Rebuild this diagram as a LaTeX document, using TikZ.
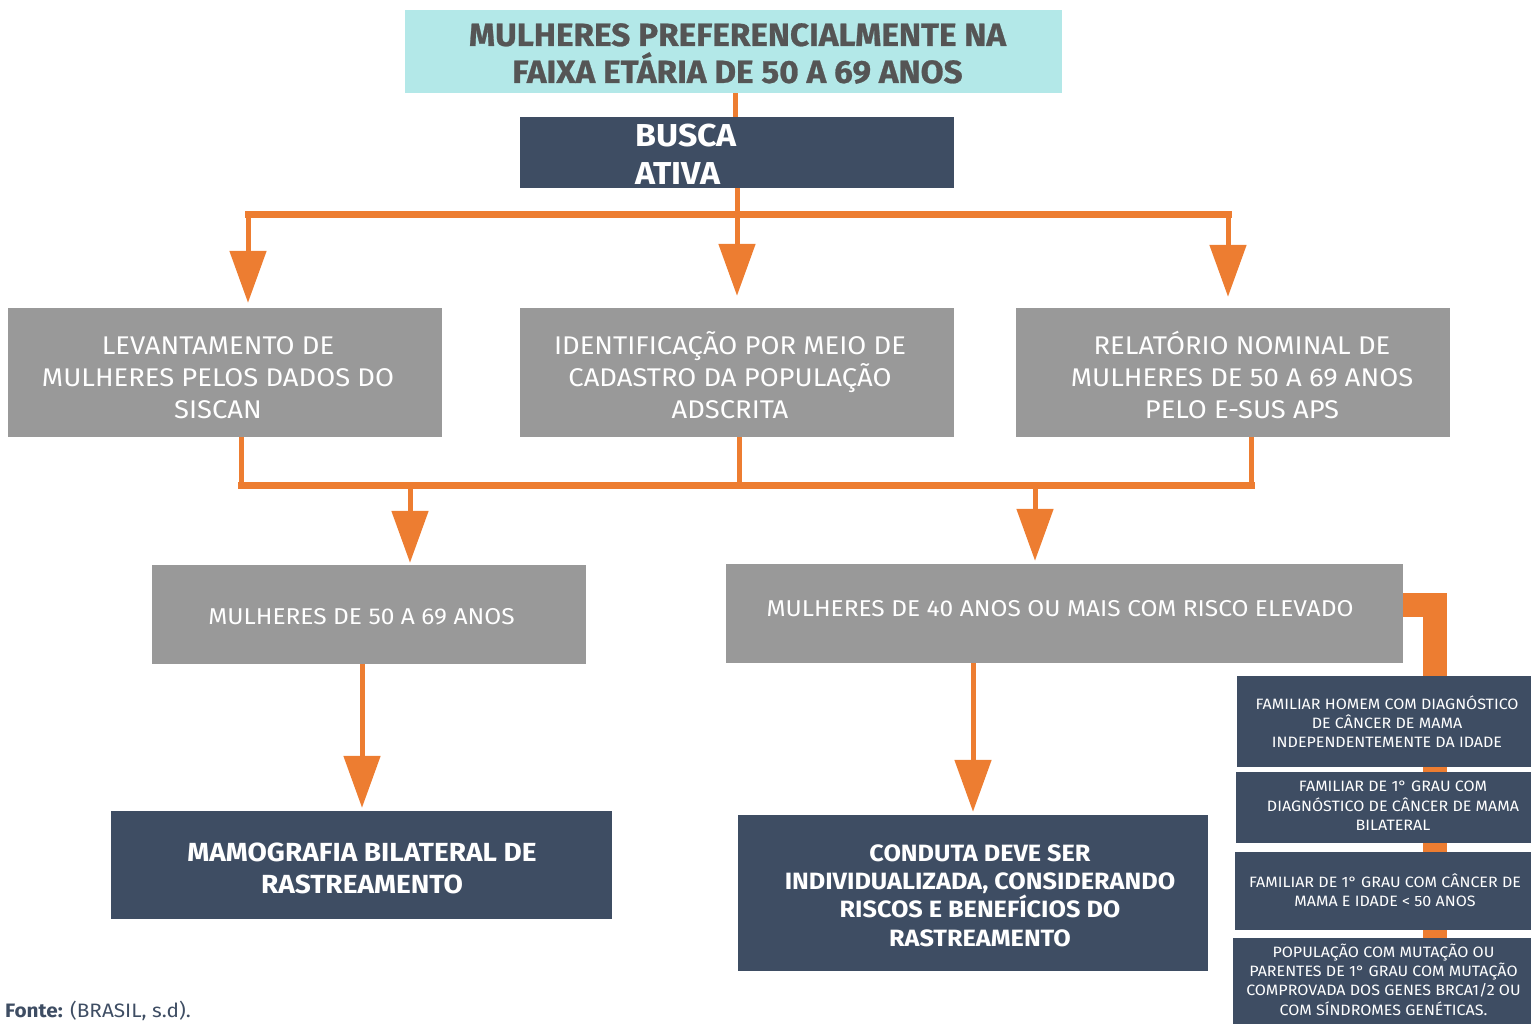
\documentclass[tikz,border=0pt]{standalone}
\usepackage{fontspec}
\setmainfont{Fira Sans}[FakeStretch=1.07]
\newfontfamily\titlefont{Fira Sans}[FakeStretch=1.04, BoldFeatures={FakeBold=0.8}]
\usetikzlibrary{arrows.meta}
\definecolor{orng}{HTML}{ED7D31}
\definecolor{navy}{HTML}{3E4D63}
\definecolor{grayb}{HTML}{999999}
\definecolor{cyanb}{HTML}{B3E8E8}
\definecolor{titlec}{HTML}{555555}
\begin{document}
\begin{tikzpicture}[x=1pt,y=-1pt,
 box/.style={inner sep=0pt},
 graybox/.style={box, fill=grayb},
 navybox/.style={box, fill=navy},
 lbl/.style={inner sep=0pt, align=center, text=white},
 glbl/.style={lbl, font=\fontsize{25.6}{32}\selectfont},
 slbl/.style={lbl, font=\fontsize{15}{19.3}\selectfont},
 conn/.style={draw=orng, line width=5pt},
 bar/.style={draw=orng, line width=7pt, line cap=rect},
 arr/.style={conn, -{Triangle[length=52pt,width=36pt]}},
]
\useasboundingbox (0,0) rectangle (1531,1023);

% top boxes
\node[box, fill=cyanb, minimum width=657pt, minimum height=83pt] (top) at (733.5,51.5) {};
\node[lbl, text=titlec, font=\titlefont\bfseries\fontsize{32}{37}\selectfont] (topt) at (737.5,53.5)
  {MULHERES PREFERENCIALMENTE NA\\FAIXA ETÁRIA DE 50 A 69 ANOS};
\node[navybox, minimum width=434pt, minimum height=71pt] (busca) at (737,152.5) {};
\node[anchor=west, align=left, text=white, inner sep=0pt, font=\bfseries\fontsize{31.7}{38}\selectfont] (buscat) at (635,154) {BUSCA\\ATIVA};

% second row
\node[graybox, minimum width=434pt, minimum height=129pt] (b1) at (225,372.5) {};
\node[glbl] (b1t) at (218,378) {LEVANTAMENTO DE\\MULHERES PELOS DADOS DO\\SISCAN};
\node[graybox, minimum width=434pt, minimum height=129pt] (b2) at (737,372.5) {};
\node[glbl] (b2t) at (730,375) {IDENTIFICAÇÃO POR MEIO DE\\CADASTRO DA POPULAÇÃO\\ADSCRITA};
\node[graybox, minimum width=434pt, minimum height=129pt] (b3) at (1233,372.5) {};
\node[glbl] (b3t) at (1242,374.5) {RELATÓRIO NOMINAL DE\\MULHERES DE 50 A 69 ANOS\\PELO E-SUS APS};

% third row
\node[graybox, minimum width=434pt, minimum height=99pt] (b50) at (369,614.5) {};
\node[lbl, font=\fontsize{22.9}{28}\selectfont] (b50t) at (361.5,617) {MULHERES DE 50 A 69 ANOS};
\node[graybox, minimum width=677pt, minimum height=99pt] (b40) at (1064.5,613.5) {};
\node[lbl, font=\fontsize{22.9}{28}\selectfont] (b40t) at (1060,609) {MULHERES DE 40 ANOS OU MAIS COM RISCO ELEVADO};

% fourth row
\node[navybox, minimum width=501pt, minimum height=108pt] (mamo) at (361.5,865) {};
\node[lbl, font=\bfseries\fontsize{26.2}{32}\selectfont] (mamot) at (362,868) {MAMOGRAFIA BILATERAL DE\\RASTREAMENTO};
\node[navybox, minimum width=470pt, minimum height=156pt] (cond) at (973,893) {};
\node[lbl, font=\bfseries\fontsize{23.6}{28.4}\selectfont] (condt) at (980,895.5)
  {CONDUTA DEVE SER\\INDIVIDUALIZADA, CONSIDERANDO\\RISCOS E BENEFÍCIOS DO\\RASTREAMENTO};

% right orange band (behind right boxes)
\coordinate (rb) at (1435,605);
\draw[orng, line width=24pt, line join=miter] (b40.east |- rb) -- (rb) -- (1435,945);

\node[navybox, minimum width=294pt, minimum height=91pt] (r1) at (1384,721.5) {};
\node[slbl] (r1t) at (1387,721.5) {FAMILIAR HOMEM COM DIAGNÓSTICO\\DE CÂNCER DE MAMA\\INDEPENDENTEMENTE DA IDADE};
\node[navybox, minimum width=295pt, minimum height=71pt] (r2) at (1383.5,807.5) {};
\node[slbl] (r2t) at (1393,806) {FAMILIAR DE 1° GRAU COM\\DIAGNÓSTICO DE CÂNCER DE MAMA\\BILATERAL};
\node[navybox, minimum width=296pt, minimum height=78pt] (r3) at (1383,891) {};
\node[slbl] (r3t) at (1385,890) {FAMILIAR DE 1° GRAU COM CÂNCER DE\\MAMA E IDADE < 50 ANOS};
\node[navybox, minimum width=298pt, minimum height=90pt] (r4) at (1382,983) {};
\node[slbl] (r4t) at (1383.5,979.5) {POPULAÇÃO COM MUTAÇÃO OU\\PARENTES DE 1° GRAU COM MUTAÇÃO\\COMPROVADA DOS GENES BRCA1/2 OU\\COM SÍNDROMES GENÉTICAS.};

% upper connectors
\draw[conn] (top.south -| 735,0) -- (busca.north -| 735,0);
\coordinate (uj) at (737,214);
\coordinate (ul) at (248,214);
\coordinate (ur) at (1228,214);
\draw[conn] (busca.south -| uj) -- (uj);
\draw[bar] (ul) -- (ur);
\draw[arr] (ul) -- ([yshift=5pt]b1.north -| ul);
\draw[arr] (uj) -- ([yshift=12pt]b2.north -| uj);
\draw[arr] (ur) -- ([yshift=11pt]b3.north -| ur);

% lower connectors
\coordinate (ll) at (241,485);
\coordinate (lm) at (739,485);
\coordinate (lr) at (1251,485);
\coordinate (la) at (410,485);
\coordinate (lb) at (1035,485);
\draw[conn] (b1.south -| ll) -- (ll);
\draw[conn] (b2.south -| lm) -- (lm);
\draw[conn] (b3.south -| lr) -- (lr);
\draw[bar] (ll) -- (lr);
\draw[arr] (la) -- ([yshift=2pt]b50.north -| la);
\draw[arr] (lb) -- ([yshift=3pt]b40.north -| lb);

\draw[arr] (b50.south -| 362,0) -- ([yshift=3pt]mamo.north -| 362,0);
\draw[arr] (b40.south -| 973,0) -- ([yshift=3pt]cond.north -| 973,0);

% source
\node[anchor=base west, inner sep=0pt, text=navy, font=\fontsize{19.4}{22}\selectfont] (fonte) at (5,1017.5)
  {\textbf{Fonte:} (BRASIL, s.d).};
\end{tikzpicture}
\end{document}
